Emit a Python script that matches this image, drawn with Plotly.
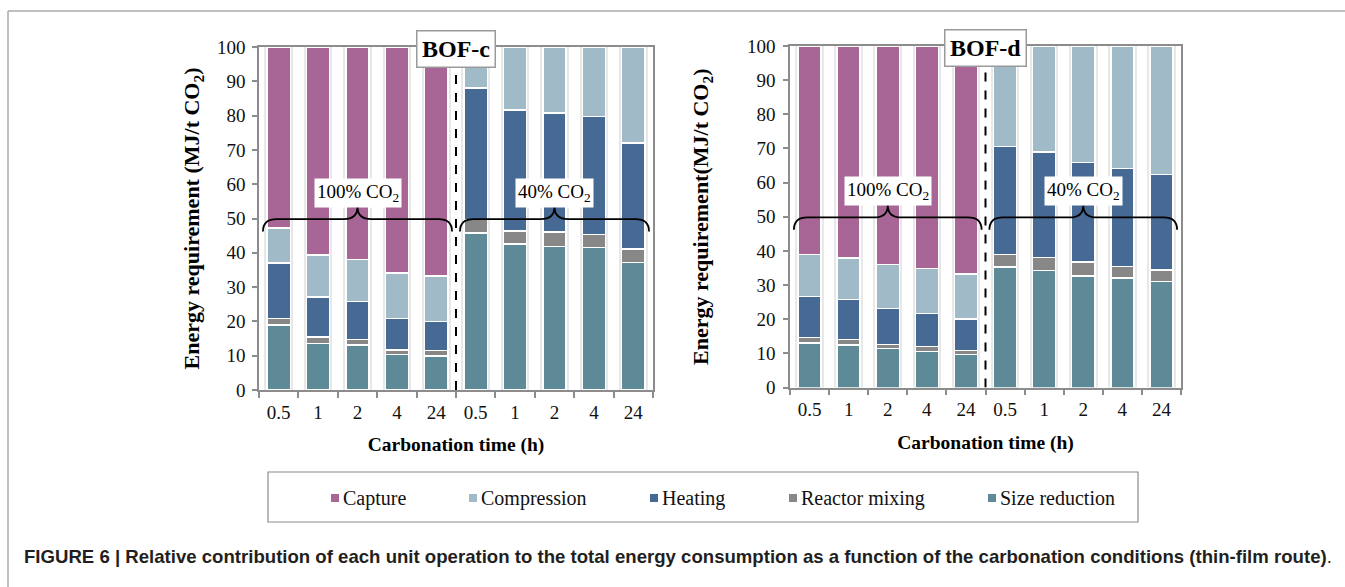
import plotly.graph_objects as go

# Carbonation time categories: 5 at 100% CO2 then 5 at 40% CO2
time_labels = ["0.5", "1", "2", "4", "24", "0.5", "1", "2", "4", "24"]
positions = list(range(len(time_labels)))

series_names = ["Size reduction", "Reactor mixing", "Heating", "Compression", "Capture"]
series_colors = ["#5e8a97", "#878787", "#466a94", "#a0bbc7", "#a86696"]

# BOF-c energy share of each unit operation (%), bottom to top
bofc_size_reduction = [19.0, 13.6, 13.1, 10.3, 9.9, 45.8, 42.6, 41.9, 41.6, 37.2]
bofc_reactor_mixing = [1.8, 1.9, 1.6, 1.4, 1.6, 3.9, 3.7, 4.1, 3.7, 3.9]
bofc_heating = [16.2, 11.6, 11.1, 9.1, 8.4, 38.4, 35.4, 34.8, 34.5, 30.9]
bofc_compression = [10.3, 12.3, 12.3, 13.3, 13.4, 11.9, 18.3, 19.2, 20.2, 28.0]
bofc_capture = [52.7, 60.6, 61.9, 65.9, 66.7, 0, 0, 0, 0, 0]

# BOF-d energy share of each unit operation (%), bottom to top
bofd_size_reduction = [13.0, 12.5, 11.4, 10.6, 9.6, 35.3, 34.3, 32.6, 32.1, 31.0]
bofd_reactor_mixing = [1.6, 1.6, 1.2, 1.4, 1.2, 3.7, 3.8, 4.1, 3.3, 3.4]
bofd_heating = [12.1, 11.7, 10.6, 9.7, 9.3, 31.5, 30.8, 29.2, 28.8, 28.0]
bofd_compression = [12.2, 12.1, 12.8, 13.2, 13.2, 29.5, 31.1, 34.1, 35.8, 37.6]
bofd_capture = [61.1, 62.1, 64.0, 65.1, 66.7, 0, 0, 0, 0, 0]

bofc = [bofc_size_reduction, bofc_reactor_mixing, bofc_heating, bofc_compression, bofc_capture]
bofd = [bofd_size_reduction, bofd_reactor_mixing, bofd_heating, bofd_compression, bofd_capture]

panel_titles = ["BOF-c", "BOF-d"]
group_labels = ["100% CO<sub>2</sub>", "40% CO<sub>2</sub>"]
group_centers = [2, 7]
group_spans = [(-0.4, 4.4), (4.6, 9.4)]

# legend entries, left to right
legend_order = ["Capture", "Compression", "Heating", "Reactor mixing", "Size reduction"]
legend_marker_px = [335, 473, 654, 793, 992]

SERIF = "Liberation Serif"
BAR_W = 0.59
AX_COLOR = "#8c8c8c"
W, H = 1345, 587

fig = go.Figure()


def add_panel(data, xref, shadow_y, bar_y):
    totals = [sum(v) for v in zip(*data)]
    # soft halo behind each column
    fig.add_trace(go.Bar(
        x=positions, y=totals, width=BAR_W + 0.14, xaxis=xref, yaxis=shadow_y,
        marker=dict(color="rgba(0,0,0,0.09)", line=dict(width=0)),
        showlegend=False, hoverinfo="skip"))
    for name, color, vals in zip(series_names, series_colors, data):
        fig.add_trace(go.Bar(
            x=positions, y=vals, name=name, width=BAR_W, xaxis=xref, yaxis=bar_y,
            marker=dict(color=color, line=dict(color="white", width=1.5)),
            showlegend=False))


add_panel(bofc, "x", "y", "y3")
add_panel(bofd, "x2", "y2", "y4")

tick_font = dict(family=SERIF, size=19, color="#111")


def x_axis(domain, anchor):
    return dict(
        domain=domain, anchor=anchor, range=[-0.5, 9.5],
        tickmode="array", tickvals=positions, ticktext=time_labels, ticks="",
        tickfont=tick_font, ticklabelstandoff=4,
        showline=True, linecolor=AX_COLOR, linewidth=1.5,
        mirror=True, showgrid=False, zeroline=False,
        minor=dict(tick0=-0.5, dtick=1, ticks="outside", ticklen=6,
                   tickcolor=AX_COLOR, tickwidth=1.5, showgrid=False),
        title=dict(text="<b>Carbonation time (h)</b>",
                   font=dict(family=SERIF, size=19.5, color="#000"), standoff=16),
        automargin=False)


def y_axis(domain, anchor, title, standoff, label_gap):
    return dict(
        domain=domain, anchor=anchor, range=[0, 100], dtick=10,
        ticks="outside", ticklen=5, tickcolor=AX_COLOR, tickwidth=1.5,
        tickfont=tick_font, ticklabelstandoff=label_gap,
        showline=True, linecolor=AX_COLOR, linewidth=1.5,
        mirror=True, showgrid=False, zeroline=False,
        title=dict(text=title, font=dict(family=SERIF, size=22, color="#000"),
                   standoff=standoff),
        automargin=False)


fig.update_layout(
    width=W, height=H, margin=dict(l=0, r=0, t=0, b=0),
    paper_bgcolor="white", plot_bgcolor="white",
    barmode="stack", showlegend=False,
    xaxis=x_axis([259 / W, 653 / W], "y"),
    yaxis=y_axis([1 - 390 / H, 1 - 47 / H], "x",
                 "<b>Energy requirement (MJ/t CO<sub>2</sub>)</b>", 11, 3),
    xaxis2=x_axis([790 / W, 1181 / W], "y2"),
    yaxis2=y_axis([1 - 387.5 / H, 1 - 46 / H], "x2",
                  "<b>Energy requirement(MJ/t CO<sub>2</sub>)</b>", 32, 4),
    yaxis3=dict(overlaying="y", range=[0, 100], visible=False),
    yaxis4=dict(overlaying="y2", range=[0, 100], visible=False),
    font=dict(family=SERIF),
)

shapes = []
annotations = []
for xr, yr, title in [("x", "y", panel_titles[0]), ("x2", "y2", panel_titles[1])]:
    # divider between the two CO2 concentrations
    shapes.append(dict(type="line", xref=xr, yref=yr, x0=4.5, x1=4.5, y0=0, y1=100,
                       line=dict(color="black", width=2, dash="dash")))
    annotations.append(dict(
        x=4.5, y=100, xref=xr, yref=yr, yanchor="middle", yshift=-2,
        text="<b>" + title + "</b>", showarrow=False,
        font=dict(family=SERIF, size=24, color="#000"),
        bgcolor="white", bordercolor="#9a9a9a", borderwidth=1.5, borderpad=4.5))
    for (a, b), cx, lab in zip(group_spans, group_centers, group_labels):
        # curly brace over each group of bars
        yl, ye, yt = 49.8, 46.2, 53.4
        r = 0.35
        path = (f"M {a},{ye} Q {a},{yl} {a + r},{yl} L {cx - r},{yl} "
                f"Q {cx},{yl} {cx},{yt} Q {cx},{yl} {cx + r},{yl} "
                f"L {b - r},{yl} Q {b},{yl} {b},{ye}")
        shapes.append(dict(type="path", xref=xr, yref=yr, path=path,
                           line=dict(color="black", width=1.8)))
        annotations.append(dict(
            x=cx, y=57.5, xref=xr, yref=yr, text=lab, showarrow=False,
            font=dict(family=SERIF, size=19, color="#000"),
            bgcolor="white", borderpad=2))

# legend: frame, colour keys and names
shapes.append(dict(type="rect", xref="paper", yref="paper",
                   x0=268 / W, x1=1138 / W, y0=1 - 522 / H, y1=1 - 472 / H,
                   line=dict(color="#8c8c8c", width=1.2)))
color_of = dict(zip(series_names, series_colors))
legend_y = 498
for name, px in zip(legend_order, legend_marker_px):
    shapes.append(dict(type="rect", xref="paper", yref="paper",
                       x0=(px - 4) / W, x1=(px + 4) / W,
                       y0=1 - (legend_y + 4) / H, y1=1 - (legend_y - 4) / H,
                       fillcolor=color_of[name], line=dict(width=0)))
    annotations.append(dict(
        x=(px + 6) / W, y=1 - legend_y / H, xref="paper", yref="paper",
        xanchor="left", yanchor="middle", showarrow=False, text=name,
        font=dict(family=SERIF, size=20, color="#111")))

# figure frame
shapes.append(dict(type="line", xref="paper", yref="paper",
                   x0=8 / W, x1=1.01, y0=1 - 11 / H, y1=1 - 11 / H,
                   line=dict(color="#aaaaaa", width=1.5)))
shapes.append(dict(type="line", xref="paper", yref="paper",
                   x0=8 / W, x1=8 / W, y0=1 - 11 / H, y1=-0.05,
                   line=dict(color="#aaaaaa", width=1.5)))

annotations.append(dict(
    x=22 / W, y=1 - 556 / H, xref="paper", yref="paper", xanchor="left",
    yanchor="middle", showarrow=False,
    text=("<b>FIGURE 6 | Relative contribution of each unit operation to the total "
          "energy consumption as a function of the carbonation conditions "
          "(thin-film route)</b>."),
    font=dict(family="Liberation Sans Narrow, Liberation Sans", size=18.6, color="#231f20")))

fig.update_layout(shapes=shapes, annotations=annotations)
fig.write_html("out.html")
